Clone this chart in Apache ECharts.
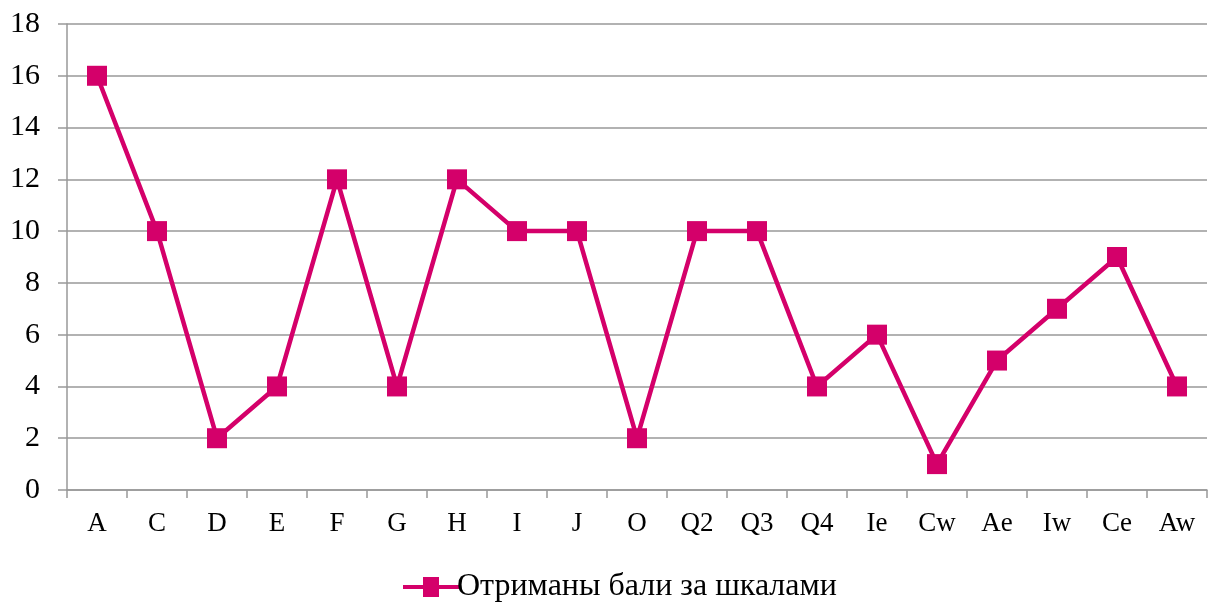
<!DOCTYPE html>
<html><head><meta charset="utf-8">
<script src="https://cdn.jsdelivr.net/npm/echarts@6/dist/echarts.min.js"></script>
<style>html,body{margin:0;padding:0;background:#fff}#c{width:1217px;height:603px}</style>
</head><body><div id="c"></div>
<script>
const categories = ['A','C','D','E','F','G','H','I','J','O','Q2','Q3','Q4','Ie','Cw','Ae','Iw','Ce','Aw'];
const values = [16,10,2,4,12,4,12,10,10,2,10,10,4,6,1,5,7,9,4];
const seriesName = 'Отриманы бали за шкалами';
const color = '#D4006A';
const chart = echarts.init(document.getElementById('c'));
chart.setOption({
  animation: false,
  textStyle: {fontFamily: 'Liberation Serif'},
  grid: {left: 67, top: 24, right: 10, bottom: 113},
  legend: {
    top: 566, left: 398, itemWidth: 56, itemHeight: 20, itemGap: 4,
    icon: 'path://M0,8 L20,8 L20,0 L36,0 L36,8 L56,8 L56,12 L36,12 L36,20 L20,20 L20,12 L0,12 Z',
    textStyle: {fontFamily: 'Liberation Serif', fontSize: 32, color: '#000', padding: [0,0,0,-7]},
    data: [seriesName]
  },
  xAxis: {
    type: 'category', data: categories, boundaryGap: true,
    axisLine: {lineStyle: {color: '#999', width: 1.5}},
    axisTick: {show: true, length: 8, inside: false, lineStyle: {color: '#999', width: 1.5}},
    axisLabel: {fontFamily: 'Liberation Serif', fontSize: 27, color: '#000', margin: 20}
  },
  yAxis: {
    type: 'value', min: 0, max: 18, interval: 2,
    axisLine: {show: true, lineStyle: {color: '#999', width: 1.5}},
    axisTick: {show: true, length: 9, lineStyle: {color: '#999', width: 1.5}},
    splitLine: {lineStyle: {color: '#999', width: 1.5}},
    axisLabel: {fontFamily: 'Liberation Serif', fontSize: 30, color: '#000', margin: 27}
  },
  series: [{
    name: seriesName, type: 'line', data: values,
    symbol: 'rect', symbolSize: 20,
    lineStyle: {color: color, width: 4.5},
    itemStyle: {color: color}
  }]
});
</script></body></html>
